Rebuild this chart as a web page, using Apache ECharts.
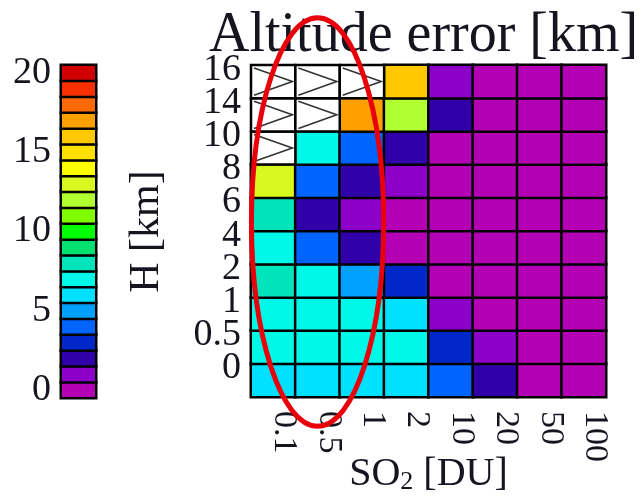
<!DOCTYPE html>
<html>
<head>
<meta charset="utf-8">
<script src="https://cdn.jsdelivr.net/npm/echarts@6/dist/echarts.min.js"></script>
<style>
  html, body { margin: 0; padding: 0; background: #fff; }
  #chart { width: 644px; height: 496px; }
</style>
</head>
<body>
<div id="chart"></div>
<script>
// SO2 column amounts (x categories) and layer heights (y categories, bottom to top)
const so2Labels = ['0.1', '0.5', '1', '2', '10', '20', '50', '100'];
const heightLabels = ['0', '0.5', '1', '2', '4', '6', '8', '10', '14', '16'];

// Altitude error [km] per SO2 amount, one array per layer height (null = no retrieval)
const errH0   = [6, 6, 6, 6, 4, 2, 0, 0];
const errH05  = [7, 7, 7, 7, 3, 1, 0, 0];
const errH1   = [7, 7, 7, 6, 1, 0, 0, 0];
const errH2   = [8, 7, 5, 3, 0, 0, 0, 0];
const errH4   = [7, 4, 2, 0, 0, 0, 0, 0];
const errH6   = [8, 2, 1, 0, 0, 0, 0, 0];
const errH8   = [13, 4, 2, 1, 0, 0, 0, 0];
const errH10  = [null, 7, 4, 2, 0, 0, 0, 0];
const errH14  = [null, null, 17, 12, 2, 0, 0, 0];
const errH16  = [null, null, null, 16, 1, 0, 0, 0];

// Colour scale: one colour per km level, 0 .. 20
const colorLevels = [0, 1, 2, 3, 4, 5, 6, 7, 8, 9, 10, 11, 12, 13, 14, 15, 16, 17, 18, 19, 20];
const levelColors = [
  '#b400b4', '#8c00c8', '#3000a8', '#0028c8', '#0064ff', '#00a0ff', '#00e0ff',
  '#00f8e8', '#00e4bc', '#00e070', '#00ff00', '#80ff00', '#b0ff30', '#d8f820',
  '#ffff00', '#ffe000', '#ffc800', '#ffa000', '#ff6a00', '#f83000', '#d00000'
];
const colorbarTicks = ['0', '5', '10', '15', '20'];

const rows = [errH0, errH05, errH1, errH2, errH4, errH6, errH8, errH10, errH14, errH16];
const cells = [];
const missing = [];
rows.forEach((row, yi) => row.forEach((v, xi) => {
  if (v === null) missing.push([xi, yi]);
  else cells.push([xi, yi, v]);
}));

const FONT = '"Liberation Serif", "DejaVu Serif", serif';
const INK = '#151520';

const chart = echarts.init(document.getElementById('chart'), null, { renderer: 'canvas' });

const option = {
  animation: false,
  backgroundColor: '#fff',
  title: {
    text: 'Altitude error [km]',
    left: 204,
    top: 3,
    textStyle: { fontFamily: FONT, fontSize: 56, fontWeight: 'normal', color: INK }
  },
  grid: [
    { left: 251, right: 38, top: 65, bottom: 99, outerBoundsMode: 'none', containLabel: false },
    { left: 61, width: 35, top: 65, bottom: 98, outerBoundsMode: 'none', containLabel: false }
  ],
  visualMap: {
    type: 'piecewise',
    show: false,
    dimension: 2,
    seriesIndex: [0, 2],
    pieces: levelColors.map((c, i) => ({ value: colorLevels[i], color: c }))
  },
  xAxis: [
    {
      type: 'category',
      gridIndex: 0,
      data: so2Labels,
      position: 'bottom',
      axisLine: { show: false },
      axisTick: { show: false },
      splitLine: { show: false },
      axisLabel: {
        rotate: -90,
        margin: 14,
        interval: 0,
        fontFamily: FONT,
        fontSize: 34,
        color: INK,
        verticalAlign: 'bottom',
        lineHeight: 22
      },
      name: '{n|SO}{s|2}{n| [DU]}',
      nameLocation: 'middle',
      nameGap: 56,
      nameMoveOverlap: false,
      nameTextStyle: {
        rich: {
          n: { fontFamily: FONT, fontSize: 40, color: INK, lineHeight: 42 },
          s: { fontFamily: FONT, fontSize: 26, color: INK, lineHeight: 42, verticalAlign: 'bottom', padding: [12, 0, 0, 0] }
        }
      }
    },
    {
      type: 'category',
      gridIndex: 1,
      data: ['H'],
      show: false
    }
  ],
  yAxis: [
    {
      type: 'category',
      gridIndex: 0,
      data: heightLabels,
      axisLine: { show: false },
      axisTick: { show: false },
      splitLine: { show: false },
      axisLabel: {
        margin: 10,
        interval: 0,
        hideOverlap: false,
        fontFamily: FONT,
        fontSize: 38,
        color: INK,
        verticalAlign: 'bottom',
        lineHeight: 24
      }
    },
    {
      type: 'category',
      gridIndex: 1,
      data: colorLevels.map(String),
      axisLine: { show: false },
      axisTick: { show: false },
      splitLine: { show: false },
      axisLabel: {
        margin: 10,
        fontFamily: FONT,
        fontSize: 38,
        color: INK,
        interval: 0,
        formatter: (v) => (colorbarTicks.indexOf(v) >= 0 ? v : '')
      }
    },
    {
      type: 'category',
      gridIndex: 1,
      position: 'right',
      data: colorLevels.map(String),
      axisLine: { show: false },
      axisTick: { show: false },
      axisLabel: { show: false },
      splitLine: { show: false },
      name: 'H [km]',
      nameLocation: 'middle',
      nameRotate: 90,
      nameGap: 30,
      nameTextStyle: { fontFamily: FONT, fontSize: 42, color: INK }
    }
  ],
  series: [
    {
      name: 'Altitude error',
      type: 'heatmap',
      xAxisIndex: 0,
      yAxisIndex: 0,
      data: cells,
      itemStyle: { borderColor: '#000', borderWidth: 2.5 },
      emphasis: { disabled: true }
    },
    {
      name: 'No retrieval',
      type: 'custom',
      xAxisIndex: 0,
      yAxisIndex: 0,
      data: missing,
      renderItem: function (params, api) {
        const c = api.coord([api.value(0), api.value(1)]);
        const s = api.size([1, 1]);
        const x0 = c[0] - s[0] / 2;
        const y0 = c[1] - s[1] / 2;
        return {
          type: 'group',
          children: [
            {
              type: 'rect',
              shape: { x: x0, y: y0, width: s[0], height: s[1] },
              style: { fill: '#fff', stroke: '#000', lineWidth: 2.5 }
            },
            {
              type: 'polyline',
              shape: {
                points: [
                  [x0 + 3, y0 + 3],
                  [x0 + s[0] - 3, y0 + s[1] * 0.5],
                  [x0 + 3, y0 + s[1] - 3]
                ]
              },
              style: { fill: null, stroke: '#333', lineWidth: 1.6 }
            }
          ]
        };
      }
    },
    {
      name: 'Colour scale',
      type: 'heatmap',
      xAxisIndex: 1,
      yAxisIndex: 1,
      data: colorLevels.map((l) => [0, l, l]),
      itemStyle: { borderColor: '#000', borderWidth: 2.5 },
      emphasis: { disabled: true }
    }
  ]
};

chart.setOption(option);

// Red ring around the three lowest SO2 columns
const colCenter = chart.convertToPixel({ xAxisIndex: 0 }, '0.5');
const colLeft = chart.convertToPixel({ xAxisIndex: 0 }, '0.1');
const rowTop = chart.convertToPixel({ yAxisIndex: 0 }, '16');
const rowBottom = chart.convertToPixel({ yAxisIndex: 0 }, '0');
const cellW = colCenter - colLeft;
const cellH = (rowBottom - rowTop) / 9;
chart.setOption({
  graphic: [{
    type: 'ellipse',
    shape: {
      cx: colCenter,
      cy: (rowTop + rowBottom) / 2 - cellH * 0.27,
      rx: cellW * 1.49,
      ry: cellH * 6.15
    },
    style: { fill: null, stroke: '#e8000a', lineWidth: 5 },
    z: 100
  }]
});
</script>
</body>
</html>
